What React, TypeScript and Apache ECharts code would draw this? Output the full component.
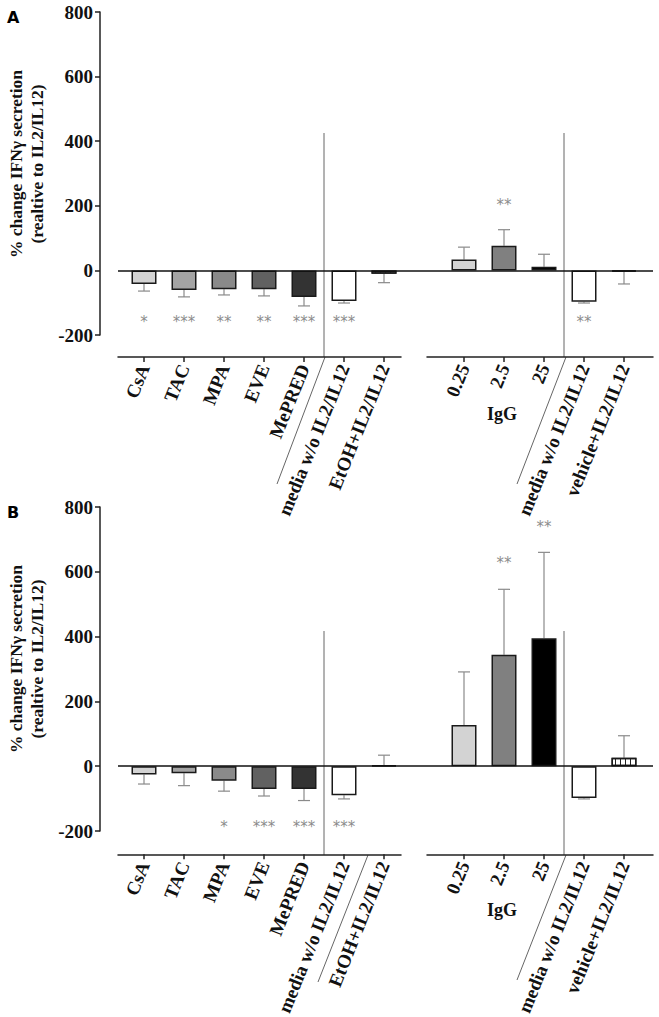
import React, { useEffect, useRef } from "react";
import * as echarts from "echarts";

// ---- data ----
const leftCategories = ["CsA", "TAC", "MPA", "EVE", "MePRED", "media w/o IL2/IL12", "EtOH+IL2/IL12"];
const rightCategories = ["0.25", "2.5", "25", "media w/o IL2/IL12", "vehicle+IL2/IL12"];
const leftPositions = [0, 1, 2, 3, 4, 5, 6];
const rightPositions = [8, 9, 10, 11, 12];
const barPositions = [0, 1, 2, 3, 4, 5, 6, 8, 9, 10, 11, 12];
const barColors = ["#d3d3d3", "#a4a4a4", "#8a8a8a", "#616161", "#333333", "#ffffff", "#ffffff", "#d3d3d3", "#808080", "#000000", "#ffffff", "#ffffff"];
const striped = [false, false, false, false, false, false, true, false, false, false, false, true];

const valuesA = [-42, -61, -58, -58, -82, -95, -10, 34, 76, 11, -97, -4];
const errorsA = [-64, -82, -76, -79, -110, -101, -38, 72, 126, 50, -101, -42];
const valuesB = [-26, -22, -45, -70, -70, -90, 3, 127, 344, 395, -98, 26];
const errorsB = [-55, -60, -77, -92, -106, -101, 34, 291, 546, 660, -101, 94];

const starPosA = [0, 1, 2, 3, 4, 5, 9, 11];
const starTextA = ["*", "***", "**", "**", "***", "***", "**", "**"];
const starValA = [-160, -160, -160, -160, -160, -160, 202, -160];
const starPosB = [2, 3, 4, 5, 9, 10];
const starTextB = ["*", "***", "***", "***", "**", "**"];
const starValB = [-188, -188, -188, -188, 627, 738];

const yTicks = { min: -200, max: 800, interval: 200 };
const yTitle = "% change IFNγ secretion\n(realtive to IL2/IL12)";

// ---- layout ----
const W = 659;
const H = 1017;
const FONT = "Liberation Serif";
const gridLeft = 118;
const gridRight = 653;
const step = 40;
const firstTick = 144;
const leftAxisEnd = 401;
const rightAxisStart = 427;
const panels = [
  { top: 12, height: 323, axisY: 357, divTop: 133, diagL: [325, 357, 277, 484], diagR: [566, 357, 517, 484], label: "A", igY: 414 },
  { top: 507, height: 324, axisY: 855, divTop: 631, diagL: [368, 855, 318, 982], diagR: [566, 855, 517, 980], label: "B", igY: 910 },
];
const toVal = (px: number) => (px - firstTick) / step;

export default function App() {
  const ref = useRef<HTMLDivElement>(null);
  useEffect(() => {
    document.body.style.margin = "0";
    const chart = echarts.init(ref.current!, null, { renderer: "svg" });
    const grids: any[] = [];
    const xAxes: any[] = [];
    const yAxes: any[] = [];
    const series: any[] = [];
    const graphics: any[] = [];

    panels.forEach((p, pi) => {
      const values = pi === 0 ? valuesA : valuesB;
      const errors = pi === 0 ? errorsA : errorsB;
      const sPos = pi === 0 ? starPosA : starPosB;
      const sTxt = pi === 0 ? starTextA : starTextB;
      const sVal = pi === 0 ? starValA : starValB;
      const base = grids.length;
      // data grid
      grids.push({ left: gridLeft, top: p.top, width: gridRight - gridLeft, height: p.height });
      xAxes.push({ gridIndex: base, type: "value", min: toVal(gridLeft), max: toVal(gridRight), show: false });
      yAxes.push({
        gridIndex: base, type: "value", ...yTicks, offset: 18, position: "left",
        axisLine: { show: true, onZero: false, lineStyle: { color: "#222", width: 1.5 } },
        axisTick: { show: true, length: 5, lineStyle: { color: "#222", width: 1.5 } },
        axisLabel: { margin: 7, color: "#111", fontFamily: FONT, fontWeight: "bold", fontSize: 19 },
        splitLine: { show: false },
      });
      // axis grids
      const axisCommon = (gi: number, min: number, max: number, pos: number[], cats: string[]) => ({
        gridIndex: gi, type: "value", min, max, position: "bottom",
        axisLine: { show: true, onZero: false, lineStyle: { color: "#222", width: 1.5 } },
        axisTick: { show: true, length: 5, customValues: pos, lineStyle: { color: "#222", width: 1.5 } },
        axisLabel: {
          show: true, customValues: pos, rotate: 68, margin: 8, color: "#111",
          fontFamily: FONT, fontWeight: "bold", fontSize: 19,
          formatter: (v: number) => cats[pos.indexOf(Math.round(v))] ?? "",
        },
        splitLine: { show: false },
      });
      grids.push({ left: gridLeft, top: p.axisY - 1, width: leftAxisEnd - gridLeft, height: 1 });
      xAxes.push(axisCommon(base + 1, toVal(gridLeft), toVal(leftAxisEnd), leftPositions, leftCategories));
      yAxes.push({ gridIndex: base + 1, type: "value", show: false });
      grids.push({ left: rightAxisStart, top: p.axisY - 1, width: gridRight - rightAxisStart, height: 1 });
      xAxes.push(axisCommon(base + 2, toVal(rightAxisStart), toVal(gridRight), rightPositions, rightCategories));
      yAxes.push({ gridIndex: base + 2, type: "value", show: false });

      series.push({
        type: "custom", xAxisIndex: base, yAxisIndex: base, z: 1,
        data: barPositions.map((x, i) => [x, values[i], errors[i]]),
        encode: { x: 0, y: [1, 2] },
        renderItem: (_params: any, api: any) => {
          const x = api.value(0);
          const a = api.coord([x, api.value(1)]);
          const b = api.coord([x, api.value(2)]);
          const st = { stroke: "#8a8a8a", lineWidth: 1.2 };
          return {
            type: "group",
            children: [
              { type: "line", shape: { x1: a[0], y1: a[1], x2: b[0], y2: b[1] }, style: st },
              { type: "line", shape: { x1: b[0] - 6, y1: b[1], x2: b[0] + 6, y2: b[1] }, style: st },
            ],
          };
        },
      });
      series.push({
        type: "bar", xAxisIndex: base, yAxisIndex: base, barWidth: 25, z: 3,
        data: barPositions.map((x, i) => ({
          value: [x, values[i]],
          itemStyle: {
            color: barColors[i], borderColor: "#1a1a1a", borderWidth: 1.5,
            decal: striped[i]
              ? { symbol: "rect", symbolSize: 1, dashArrayX: [1, 4], dashArrayY: [4, 0], color: "#222", backgroundColor: "#ffffff", rotation: 0 }
              : undefined,
          },
        })),
        markLine: {
          silent: true, symbol: "none", label: { show: false },
          lineStyle: { color: "#111", width: 1.5, type: "solid" },
          data: [{ yAxis: 0 }],
        },
      });
      series.push({
        type: "custom", xAxisIndex: base, yAxisIndex: base, z: 4,
        data: sPos.map((x, i) => [x, sVal[i]]),
        encode: { x: 0, y: 1 },
        renderItem: (params: any, api: any) => {
          const c = api.coord([api.value(0), api.value(1)]);
          return {
            type: "text", x: c[0], y: c[1],
            style: { text: sTxt[params.dataIndex], fill: "#8c8c8c", fontSize: 15, fontFamily: "DejaVu Sans", align: "center", verticalAlign: "middle" },
          };
        },
      });

      const ln = { stroke: "#666", lineWidth: 1 };
      const midL = (4 + 5) / 2 * step + firstTick;
      const midR = (10 + 11) / 2 * step + firstTick;
      graphics.push(
        { type: "line", shape: { x1: midL, y1: p.divTop, x2: midL, y2: p.axisY }, style: ln },
        { type: "line", shape: { x1: midR, y1: p.divTop, x2: midR, y2: p.axisY }, style: ln },
        { type: "line", shape: { x1: p.diagL[0], y1: p.diagL[1], x2: p.diagL[2], y2: p.diagL[3] }, style: ln },
        { type: "line", shape: { x1: p.diagR[0], y1: p.diagR[1], x2: p.diagR[2], y2: p.diagR[3] }, style: ln },
        {
          type: "text", x: 9 * step + firstTick - 2, y: p.igY,
          style: { text: "IgG", fontFamily: FONT, fontWeight: "bold", fontSize: 18, fill: "#111", align: "center", verticalAlign: "middle" },
        },
        {
          type: "text", x: 7, y: p.top - 3,
          style: { text: p.label, fontFamily: "DejaVu Sans", fontWeight: "bold", fontSize: 16, fill: "#000", align: "left", verticalAlign: "top" },
        },
        {
          type: "text", x: 26, y: p.top + 152, rotation: Math.PI / 2,
          style: { text: yTitle, fontFamily: FONT, fontWeight: "bold", fontSize: 17.5, lineHeight: 21, fill: "#111", align: "center", verticalAlign: "middle" },
        }
      );
    });

    chart.setOption({
      animation: false,
      backgroundColor: "#ffffff",
      grid: grids,
      xAxis: xAxes,
      yAxis: yAxes,
      series,
      graphic: graphics,
    });
    return () => chart.dispose();
  }, []);
  return <div ref={ref} style={{ width: W, height: H }} />;
}
